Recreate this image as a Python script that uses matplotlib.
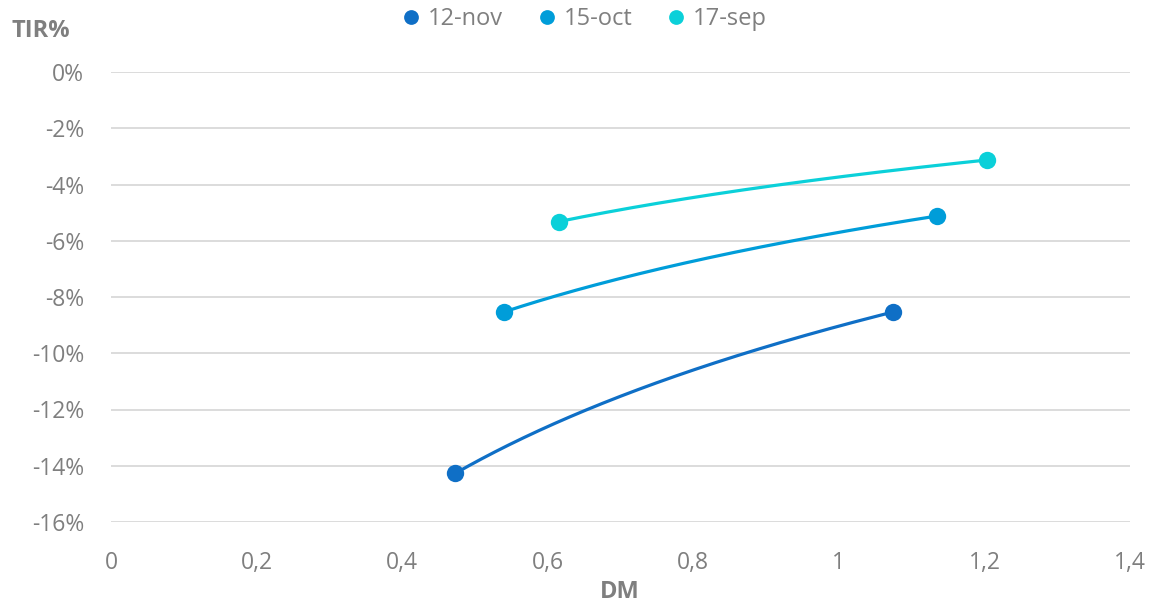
import numpy as np
import matplotlib
matplotlib.use("Agg")
import matplotlib.pyplot as plt
from matplotlib.ticker import FuncFormatter, MultipleLocator

plt.rcParams['font.family'] = ['Open Sans', 'DejaVu Sans']

# Duration (DM) and yield (TIR, %) at the two ends of each curve
series_names = ["12-nov", "15-oct", "17-sep"]
dm_values = [[0.473, 1.075], [0.540, 1.135], [0.615, 1.203]]
tir_values = [[-14.27, -8.53], [-8.53, -5.12], [-5.32, -3.13]]
colors = ["#0F6FC6", "#009DD9", "#0BD0D9"]

grey = "#7F7F7F"

fig = plt.figure(figsize=(11.55, 6.05), dpi=100)
ax = fig.add_axes([111 / 1155, 1 - 522 / 605, (1130 - 111) / 1155, (522 - 72) / 605])

for name, xs, ys, c in zip(series_names, dm_values, tir_values, colors):
    xs = np.asarray(xs)
    ys = np.asarray(ys)
    # logarithmic trendline through the observations
    a, b = np.polyfit(np.log(xs), ys, 1)
    xf = np.linspace(xs.min(), xs.max(), 200)
    ax.plot(xf, a * np.log(xf) + b, color=c, lw=2.3, solid_capstyle="round", zorder=3)
    ax.plot(xs, ys, "o", color=c, ms=12.5, mec="none", zorder=4, label=name)

ax.set_xlim(0, 1.4)
ax.set_ylim(-16, 0)
ax.xaxis.set_major_locator(MultipleLocator(0.2))
ax.yaxis.set_major_locator(MultipleLocator(2))
ax.xaxis.set_major_formatter(FuncFormatter(lambda v, p: f"{v:g}".replace(".", ",")))
ax.yaxis.set_major_formatter(FuncFormatter(lambda v, p: f"{int(round(v))}%"))

ax.grid(axis="y", color="#D9D9D9", lw=1.3)
ax.set_axisbelow(True)
for s in ax.spines.values():
    s.set_visible(False)
ax.tick_params(length=0, labelsize=16.5, labelcolor=grey)
ax.tick_params(axis="x", pad=21)
ax.tick_params(axis="y", pad=19.5)

fig.text(12 / 1155, 1 - 31 / 605, "TIR%", color=grey, fontsize=17, fontweight="bold",
         ha="left", va="center")
fig.text(620 / 1155, 1 - 592 / 605, "DM", color=grey, fontsize=17, fontweight="bold",
         ha="center", va="center")

leg = fig.legend(loc="center", bbox_to_anchor=(583 / 1155, 1 - 19 / 605), ncol=3,
                 frameon=False, fontsize=17, handletextpad=0.22, columnspacing=1.35,
                 markerscale=0.85, handlelength=1.0)
for t in leg.get_texts():
    t.set_color(grey)

fig.savefig("out.png", dpi=100)
